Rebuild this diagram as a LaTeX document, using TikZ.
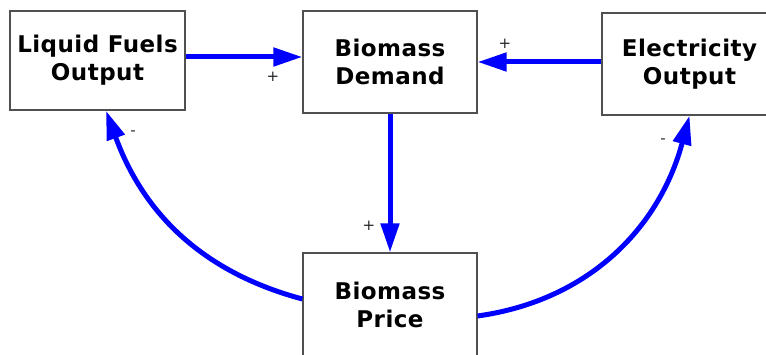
\documentclass[tikz,border=0pt]{standalone}
\usepackage{fontspec}
\setmainfont{DejaVu Sans}
\newfontfamily\boxfont[LetterSpace=2.0]{DejaVu Sans}
\usetikzlibrary{arrows.meta}
\definecolor{arrowblue}{RGB}{0,0,255}
\definecolor{boxgray}{RGB}{80,80,80}
\tikzset{
  var/.style={draw=boxgray, line width=1.3pt, fill=white, align=center,
    font=\boxfont\fontsize{23}{28}\selectfont\bfseries, inner sep=0pt},
  link/.style={draw=arrowblue, line width=5pt,
    -{Triangle[length=29pt,width=18pt]}},
  pol/.style={font=\fontsize{15}{15}\selectfont, text=black!85, inner sep=0pt}
}
\begin{document}
\begin{tikzpicture}[x=1pt,y=1pt]
\useasboundingbox (0,0) rectangle (766,354);
\clip (0,0) rectangle (766,354);
\fill[white] (0,0) rectangle (766,354);
\node[var, minimum width=175pt, minimum height=99pt] (LF) at (97.5,293.5) {Liquid Fuels\\Output};
\node[var, minimum width=174pt, minimum height=102pt] (BD) at (390,292) {Biomass\\Demand};
\node[var, minimum width=175pt, minimum height=102pt] (EO) at (689.5,290) {Electricity\\Output};
\node[var, minimum width=174pt, minimum height=104pt] (BP) at (390,49) {Biomass\\Price};
\draw[link] ([yshift=3.5pt]LF.east) -- ([yshift=5pt]BD.west);
\draw[link] ([yshift=2pt]EO.west) -- (BD.east);
\draw[link] (BD.south) -- (BP.north);
\draw[link] ([yshift=6pt]BP.west) to[out=165, in=-70] ([xshift=8.5pt]LF.south);
\draw[link] ([yshift=-11pt]BP.east) to[out=8, in=-105] (EO.south);
\node[pol] (p1) at (273,277) {+};
\node[pol] (p2) at (505,310) {+};
\node[pol] (p3) at (369,128) {+};
\node[pol] (m1) at (133,221) {-};
\node[pol] (m2) at (663,213) {-};
\end{tikzpicture}
\end{document}
